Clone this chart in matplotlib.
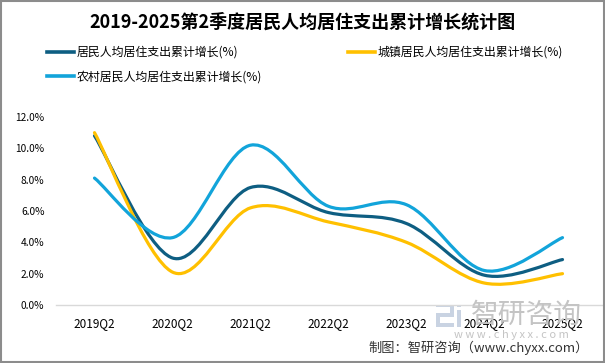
import numpy as np
import matplotlib
matplotlib.use('Agg')
import matplotlib.pyplot as plt
from matplotlib.path import Path
from matplotlib.patches import PathPatch, Rectangle
from matplotlib.lines import Line2D

plt.rcParams['font.family'] = ['Noto Sans CJK SC', 'DejaVu Sans']
plt.rcParams['axes.unicode_minus'] = False

quarters = ['2019Q2', '2020Q2', '2021Q2', '2022Q2', '2023Q2', '2024Q2', '2025Q2']
all_growth = [10.8, 3.0, 7.5, 5.9, 5.2, 1.9, 2.9]      # 居民
urban_growth = [11.0, 2.1, 6.2, 5.3, 4.0, 1.4, 2.0]    # 城镇
rural_growth = [8.1, 4.3, 10.2, 6.3, 6.4, 2.2, 4.3]    # 农村
names = ['居民人均居住支出累计增长(%)', '城镇居民人均居住支出累计增长(%)',
         '农村居民人均居住支出累计增长(%)']
colors = ['#0E5E82', '#FFC000', '#12A4DA']


def smooth_path(xs, ys, t=1/6):
    # excel一样的平滑线，用贝塞尔曲线画
    p = np.column_stack([xs, ys]).astype(float)
    n = len(p)
    verts = [p[0]]
    codes = [Path.MOVETO]
    for i in range(n - 1):
        p0 = p[i - 1] if i > 0 else p[i]
        p3 = p[i + 2] if i + 2 < n else p[i + 1]
        c1 = p[i] + (p[i + 1] - p0) * t
        c2 = p[i + 1] - (p3 - p[i]) * t
        verts += [c1, c2, p[i + 1]]
        codes += [Path.CURVE4] * 3
    return Path(verts, codes)


fig = plt.figure(figsize=(6.05, 3.63), dpi=100)
fig.patch.set_facecolor('white')
fig.add_artist(Rectangle((0.001, 0.002), 0.997, 0.995, transform=fig.transFigure,
                         fill=False, edgecolor='#8C8C8C', lw=1.5))

ax = fig.add_axes([55.5/605, 1-305/363, 546/605, 188/363])
x = np.arange(len(quarters))
handles = []
for ys, c, nm in zip([all_growth, urban_growth, rural_growth], colors, names):
    ax.add_patch(PathPatch(smooth_path(x, ys), fill=False, edgecolor=c, lw=2.3,
                           capstyle='round', zorder=3))
    handles.append(Line2D([], [], color=c, lw=2.6, label=nm))

ax.set_xlim(-0.5, 6.5)
ax.set_ylim(0, 12)
ax.set_yticks(np.arange(0, 12.1, 2))
ax.set_yticklabels(['%.1f%%' % v for v in np.arange(0, 12.1, 2)], fontsize=7.3)
ax.set_xticks(x)
ax.set_xticklabels(quarters, fontsize=8.5)
ax.tick_params(axis='y', length=0, pad=8)
ax.tick_params(axis='x', length=0, pad=9)
for s in ['left', 'right', 'top']:
    ax.spines[s].set_visible(False)
ax.spines['bottom'].set_color('#D9D9D9')
ax.spines['bottom'].set_linewidth(1)

fig.text(0.5, 1-22.5/363, '2019-2025第2季度居民人均居住支出累计增长统计图',
         ha='center', va='center', fontsize=13, fontweight='bold')

fig.legend(handles=[handles[0], handles[2], handles[1]], ncol=2, frameon=False,
           loc='upper left', bbox_to_anchor=(46.5/605, 1-46/363), borderpad=0,
           borderaxespad=0, fontsize=8.6, handlelength=2.3, handletextpad=0.2,
           columnspacing=7.2, labelspacing=0.95)

# 水印
wm = '#C9D3E2'
for r in [(436, 303, 18, 4), (450, 303, 4, 12), (436, 313, 18, 4), (436, 313, 4, 14),
          (436, 323, 18, 4), (457, 303, 4, 4), (457, 310, 4, 17)]:
    fig.add_artist(Rectangle((r[0]/605, 1-(r[1]+r[3])/363), r[2]/605, r[3]/363,
                             transform=fig.transFigure, color=wm, lw=0, zorder=0))
fig.text(526/605, 1-315/363, '智研咨询', ha='center', va='center', fontsize=20,
         color='#C4C4C4', zorder=0)
fig.text(511/605, 1-335/363, 'w w w . c h y x x . c o m', ha='center', va='center',
         fontsize=8, color='#C4C4C4', zorder=0)

fig.text(589/605, 1-348/363, '制图：智研咨询（www.chyxx.com）', ha='right', va='center',
         fontsize=9.5, color='#333333')

fig.savefig('out.png', dpi=100, facecolor='white')
